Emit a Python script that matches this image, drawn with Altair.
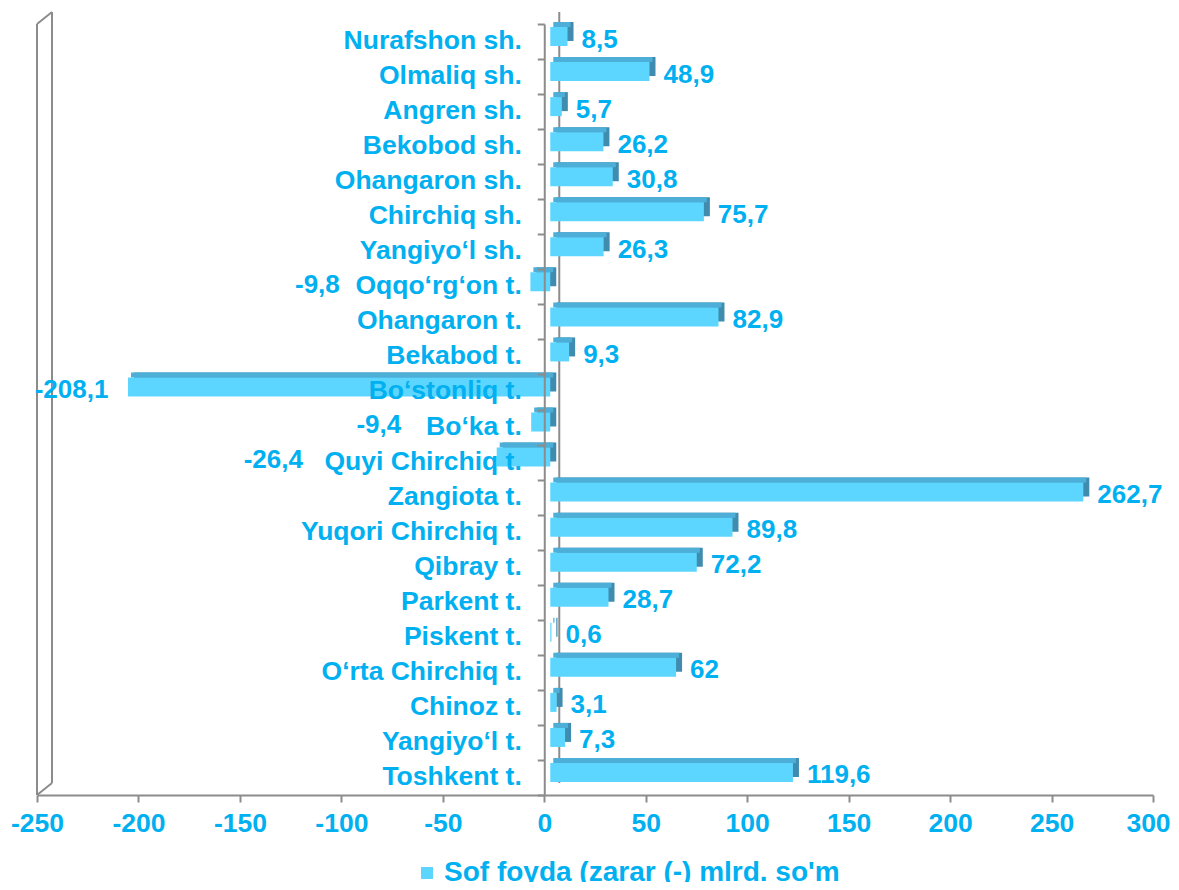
import altair as alt
import pandas as pd

categories = [
    "Nurafshon sh.", "Olmaliq sh.", "Angren sh.", "Bekobod sh.", "Ohangaron sh.",
    "Chirchiq sh.", "Yangiyo‘l sh.", "Oqqo‘rg‘on t.", "Ohangaron t.", "Bekabod t.",
    "Bo‘stonliq t.", "Bo‘ka t.", "Quyi Chirchiq t.", "Zangiota t.", "Yuqori Chirchiq t.",
    "Qibray t.", "Parkent t.", "Piskent t.", "O‘rta Chirchiq t.", "Chinoz t.",
    "Yangiyo‘l t.", "Toshkent t.",
]
values = [
    8.5, 48.9, 5.7, 26.2, 30.8,
    75.7, 26.3, -9.8, 82.9, 9.3,
    -208.1, -9.4, -26.4, 262.7, 89.8,
    72.2, 28.7, 0.6, 62, 3.1,
    7.3, 119.6,
]
series_name = "Sof foyda (zarar (-) mlrd. so'm"
x_ticks = [-250, -200, -150, -100, -50, 0, 50, 100, 150, 200, 250, 300]

labels = [f"{v:g}".replace(".", ",") for v in values]
df = pd.DataFrame({
    "cat": categories,
    "value": values,
    "label": labels,
    "series": series_name,
    "nchar": [len(c) for c in categories],
})

W, H = 1116, 771
XMIN, XMAX = -250, 300
zero_px = W * (0 - XMIN) / (XMAX - XMIN)

FONT = "Liberation Sans"
TXT = "#00B0F0"
GRAY = "#8C8C8C"
FS_CAT = 26.5
FS_VAL = 26
FS_AX = 26.5
FS_LEG = 28

xscale = alt.Scale(domain=[XMIN, XMAX], nice=False, zero=False)
yscale = alt.Scale(domain=categories, paddingInner=0, paddingOuter=0)

x_axis = alt.Axis(values=x_ticks, title=None, grid=False, domainColor=GRAY, domainWidth=2,
                  tickColor=GRAY, tickWidth=2, tickSize=7, labelPadding=8, labelFont=FONT,
                  labelFontSize=FS_AX, labelFontWeight="bold", labelColor=TXT, labelFlush=False,
                  labelOverlap=False, labelExpr="'' + datum.value",
                  labelOffset={"condition": {"test": "datum.value === 300", "value": -5}, "value": 0},
                  zindex=1)
y_axis = alt.Axis(orient="left", offset=-zero_px, title=None, domainColor=GRAY, domainWidth=2,
                  tickColor=GRAY, tickWidth=2, tickSize=7, tickBand="extent", labelPadding=16,
                  labelFont=FONT, labelFontSize=FS_CAT, labelFontWeight="bold", labelColor=TXT,
                  labelLimit=0, labelOffset=-1, zindex=1)


def xenc(field="value"):
    return alt.X(f"{field}:Q", scale=xscale, axis=x_axis)


y_enc = alt.Y("cat:N", sort=categories, scale=yscale, axis=y_axis)

base = alt.Chart(df)

# 3D frame: back zero line and left wall
zero_df = pd.DataFrame({"value": [0]})
wall_df = pd.DataFrame({"value": [XMIN]})

back_zero = alt.Chart(zero_df).mark_rule(color=GRAY, strokeWidth=2, xOffset=15, yOffset=-12,
                                         y2Offset=-12).encode(
    x=xenc(), y=alt.value(0), y2=alt.value(H))
wall_front = alt.Chart(wall_df).mark_rule(color=GRAY, strokeWidth=2).encode(
    x=xenc(), y=alt.value(0), y2=alt.value(H))
wall_back = alt.Chart(wall_df).mark_rule(color=GRAY, strokeWidth=2, xOffset=15, yOffset=-12,
                                         y2Offset=-12).encode(
    x=xenc(), y=alt.value(0), y2=alt.value(H))
wall_top = alt.Chart(wall_df).mark_rule(color=GRAY, strokeWidth=2, x2Offset=15, y2Offset=-12).encode(
    x=xenc(), x2="value:Q", y=alt.value(0), y2=alt.value(0))
wall_bottom = alt.Chart(wall_df).mark_rule(color=GRAY, strokeWidth=2, x2Offset=15, y2Offset=-12).encode(
    x=xenc(), x2="value:Q", y=alt.value(H), y2=alt.value(H))

# bars with pseudo-3D faces
side = base.mark_bar(size=19, xOffset=12, x2Offset=12, yOffset=-10, y2Offset=-10,
                     color="#3F8CAE").encode(x=xenc(), x2=alt.datum(0), y=y_enc)
top = base.mark_bar(size=5, xOffset=9, x2Offset=9, yOffset=-17, y2Offset=-17,
                    color="#4DAFD8").encode(x=xenc(), x2=alt.datum(0), y=y_enc)
front = base.mark_bar(size=19, xOffset=6, x2Offset=6, yOffset=-5, y2Offset=-5).encode(
    x=xenc(), x2=alt.datum(0), y=y_enc,
    color=alt.Color("series:N", scale=alt.Scale(range=["#5CD6FF"]),
                    legend=alt.Legend(orient="none", legendX=376, legendY=835, title=None,
                                      symbolType="square", symbolSize=144, symbolStrokeWidth=0,
                                      labelOffset=3,
                                      labelFont=FONT, labelFontSize=FS_LEG, labelFontWeight="bold",
                                      labelColor=TXT, labelLimit=0)))

pos_labels = base.transform_filter("datum.value >= 0").mark_text(
    align="left", baseline="middle", dx=20, dy=-2, font=FONT, fontSize=FS_VAL, fontWeight="bold", color=TXT
).encode(x=xenc(), y=y_enc, text="label:N")

neg_labels = base.transform_filter("datum.value < 0").transform_calculate(
    lx="min(datum.value - 6.7, -(22 + 6.06 * datum.nchar))"
).mark_text(
    align="right", baseline="middle", dy=-2, font=FONT, fontSize=FS_VAL, fontWeight="bold", color=TXT
).encode(x=xenc("lx"), y=y_enc, text="label:N")

chart = alt.layer(
    back_zero, wall_front, wall_back, wall_top, wall_bottom,
    side, top, front, pos_labels, neg_labels,
).properties(
    width=W, height=H,
    autosize=alt.AutoSizeParams(type="none"),
    padding={"left": 29, "top": 16, "right": 18, "bottom": 87},
).configure_view(stroke=None)

chart.save("out.html", embed_options={"renderer": "svg", "actions": False})
